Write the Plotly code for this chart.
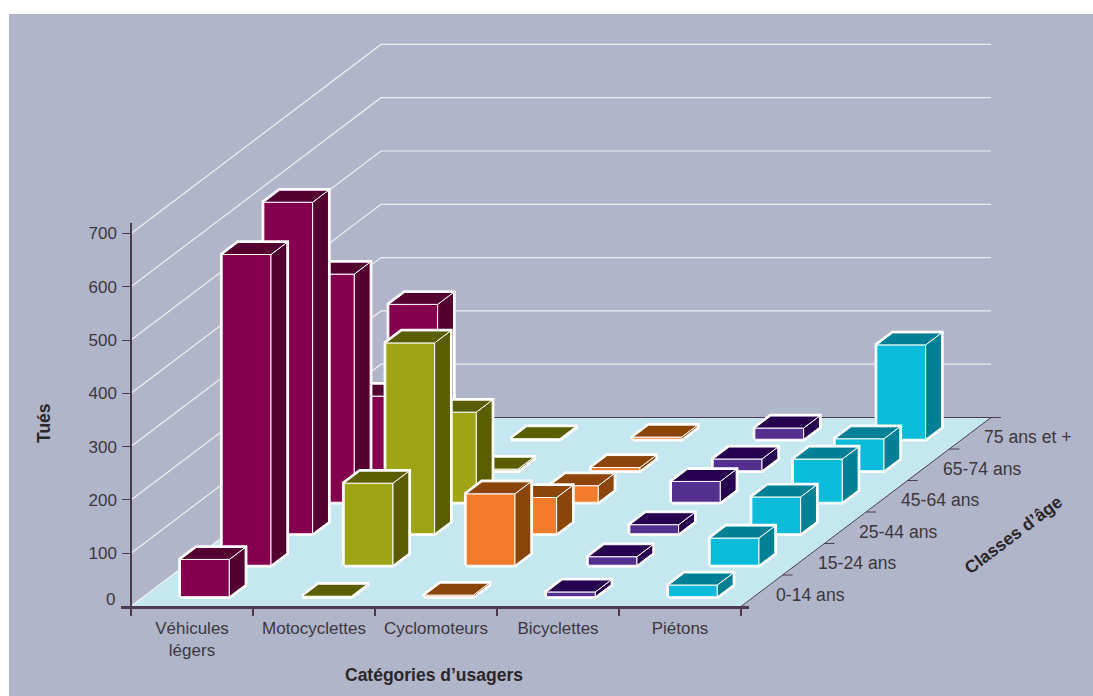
import plotly.graph_objects as go

# Fatalities by road-user category and age class
categories = ["Véhicules<br>légers", "Motocyclettes", "Cyclomoteurs", "Bicyclettes", "Piétons"]
age_classes = ["0-14 ans", "15-24 ans", "25-44 ans", "45-64 ans", "65-74 ans", "75 ans et +"]
vehicules_legers = [70, 583, 622, 428, 140, 253]
motocyclettes = [1, 154, 358, 169, 3, 1]
cyclomoteurs = [3, 134, 68, 31, 6, 4]
bicyclettes = [9, 16, 17, 39, 22, 21]
pietons = [22, 51, 69, 81, 60, 177]
value_ticks = [0, 100, 200, 300, 400, 500, 600, 700]

series = [vehicules_legers, motocyclettes, cyclomoteurs, bicyclettes, pietons]
front_colors = ["#84004F", "#9EA413", "#F47B2B", "#533090", "#0ABCD9"]
dark_colors = ["#540030", "#5A5E00", "#8B4508", "#280050", "#008094"]

PANEL = "#B1B5C9"
FLOOR = "#C5E7F0"
INK = "#3C373C"
AXIS = "#4B3A50"
FONT = "Liberation Sans"

W, H = 1093, 696
ORIGIN_X, ORIGIN_Y = 131.0, 606.5  # page position of category 0, value 0
CAT_PX = 122.0                     # pixels per category
VAL_PX = 0.533                     # pixels per unit of value
ROW_DX, ROW_DY = 250.0 / 6, 189.0 / 6  # oblique shift, in pixels, per age class
SKEW_X = ROW_DX / CAT_PX
SKEW_Y = ROW_DY / VAL_PX
N_CAT, N_ROW = len(categories), len(age_classes)
BAR_L, BAR_R = 0.30, 0.70
BAR_F, BAR_B = 0.31, 0.69


def proj(cat, row, value):
    """Oblique projection of (category, age row, value) onto the plane axes."""
    return cat + row * SKEW_X, value + row * SKEW_Y


def poly(points, fill, line_color, width):
    xs, ys = zip(*points)
    return go.Scatter(
        x=list(xs) + [xs[0]], y=list(ys) + [ys[0]], mode="lines",
        fill="toself" if fill else None, fillcolor=fill,
        line=dict(color=line_color, width=width),
        hoverinfo="skip", showlegend=False,
    )


def path(points, color, width):
    xs, ys = zip(*points)
    return go.Scatter(x=list(xs), y=list(ys), mode="lines",
                      line=dict(color=color, width=width),
                      hoverinfo="skip", showlegend=False)


fig = go.Figure()

# wall grid: one line per value, up the side wall then along the back wall
for v in value_ticks:
    fig.add_trace(path([proj(0, 0, v), proj(0, N_ROW, v), proj(N_CAT, N_ROW, v)], "#EEF0F4", 1.2))

# floor with its back edge
fig.add_trace(poly([proj(0, 0, 0), proj(N_CAT, 0, 0), proj(N_CAT, N_ROW, 0), proj(0, N_ROW, 0)],
                   FLOOR, FLOOR, 0.5))
fig.add_trace(path([proj(0, 0, 0), proj(0, N_ROW, 0)], "#EEF0F4", 1.2))
fig.add_trace(path([proj(0, N_ROW, 0), proj(N_CAT, N_ROW, 0)], AXIS, 1))

# depth axis with its ticks
fig.add_trace(path([proj(N_CAT, 0, 0), proj(N_CAT, N_ROW, 0)], AXIS, 1))
for r in range(1, N_ROW + 1):
    fig.add_trace(path([proj(N_CAT, r, 0), proj(N_CAT + 10 / CAT_PX, r, 0)], AXIS, 1))

# bars, painted from the back row to the front row
for r in range(N_ROW - 1, -1, -1):
    for c in range(N_CAT):
        v = series[c][r]
        x0, x1 = c + BAR_L, c + BAR_R
        f, b = r + BAR_F, r + BAR_B
        outline = [proj(x0, f, 0), proj(x1, f, 0), proj(x1, b, 0),
                   proj(x1, b, v), proj(x0, b, v), proj(x0, f, v)]
        front = [proj(x0, f, 0), proj(x1, f, 0), proj(x1, f, v), proj(x0, f, v)]
        side = [proj(x1, f, 0), proj(x1, b, 0), proj(x1, b, v), proj(x1, f, v)]
        top = [proj(x0, f, v), proj(x1, f, v), proj(x1, b, v), proj(x0, b, v)]
        fig.add_trace(poly(outline, "#FFFFFF", "#FFFFFF", 4.5))
        fig.add_trace(poly(front, front_colors[c], "#FFFFFF", 1))
        fig.add_trace(poly(side, dark_colors[c], "#FFFFFF", 1))
        fig.add_trace(poly(top, dark_colors[c], "#FFFFFF", 1))

# empty trace so the category and value axes get their own subplot
fig.add_trace(go.Scatter(x=[None], y=[None], xaxis="x2", yaxis="y2",
                         hoverinfo="skip", showlegend=False))

tick_font = dict(family=FONT, size=17, color=INK)
depth_font = dict(family=FONT, size=17.6, color=INK)
title_font = dict(family=FONT, size=17.5, color="#2B2628")

annotations = []
for r, label in enumerate(age_classes):
    ax, ay = proj(N_CAT, r + 0.5, 0)
    annotations.append(dict(x=ax, y=ay, xref="x", yref="y", text=label, showarrow=False,
                            xanchor="left", yanchor="middle", xshift=12, yshift=-4, font=depth_font))
for text, px, py, angle in [
    ("<b>Catégories d’usagers</b>", 433.5, 675, 0),
    ("<b>Tués</b>", 44, 423, -90),
    ("<b>Classes d’âge</b>", 1013, 535, -37),
]:
    annotations.append(dict(x=px / W, y=1 - py / H, xref="paper", yref="paper", text=text,
                            textangle=angle, showarrow=False, xanchor="center", yanchor="middle",
                            font=title_font))

# the zero label sits just above the category axis line
annotations.append(dict(x=0, y=value_ticks[0], xref="x", yref="y", text=str(value_ticks[0]),
                        showarrow=False, xanchor="right", yanchor="middle",
                        xshift=-14, yshift=7, font=tick_font))

x2_left, x2_right = -10 / CAT_PX, N_CAT + 8 / CAT_PX
y2_top = 720

fig.update_layout(
    width=W, height=H, autosize=False,
    margin=dict(l=0, r=0, t=0, b=0, pad=0, autoexpand=False),
    paper_bgcolor="#FFFFFF", plot_bgcolor="rgba(0,0,0,0)",
    showlegend=False,
    xaxis=dict(visible=False, domain=[0, 1], fixedrange=True,
               range=[(0 - ORIGIN_X) / CAT_PX, (W - ORIGIN_X) / CAT_PX]),
    yaxis=dict(visible=False, domain=[0, 1], fixedrange=True,
               range=[(ORIGIN_Y - H) / VAL_PX, ORIGIN_Y / VAL_PX]),
    xaxis2=dict(
        domain=[(ORIGIN_X + x2_left * CAT_PX) / W, (ORIGIN_X + x2_right * CAT_PX) / W],
        range=[x2_left, x2_right], anchor="free", position=1 - ORIGIN_Y / H,
        showgrid=False, zeroline=False, fixedrange=True,
        showline=True, linecolor=AXIS, linewidth=2.5,
        tickmode="array", tickvals=[c + 0.5 for c in range(N_CAT)], ticktext=categories,
        ticks="outside", ticklen=5, tickcolor="rgba(0,0,0,0)", tickfont=tick_font,
        minor=dict(tickmode="array", tickvals=list(range(N_CAT + 1)), ticks="outside",
                   ticklen=8, tickwidth=1.5, tickcolor=AXIS, showgrid=False),
    ),
    yaxis2=dict(
        domain=[1 - ORIGIN_Y / H, 1 - (ORIGIN_Y - y2_top * VAL_PX) / H],
        range=[0, y2_top], anchor="free", position=ORIGIN_X / W,
        showgrid=False, zeroline=False, fixedrange=True,
        showline=True, linecolor=AXIS, linewidth=1.5,
        tickmode="array", tickvals=value_ticks,
        ticktext=[""] + [str(v) for v in value_ticks[1:]],
        ticks="outside", ticklen=8, tickwidth=1, tickcolor=AXIS, tickfont=tick_font,
        ticklabelstandoff=2,
    ),
    shapes=[dict(type="rect", xref="paper", yref="paper", layer="below", line=dict(width=0),
                 x0=9 / W, x1=1, y0=0, y1=1 - 14 / H, fillcolor=PANEL)],
    annotations=annotations,
)

fig.write_html("out.html", config=dict(displayModeBar=False))
